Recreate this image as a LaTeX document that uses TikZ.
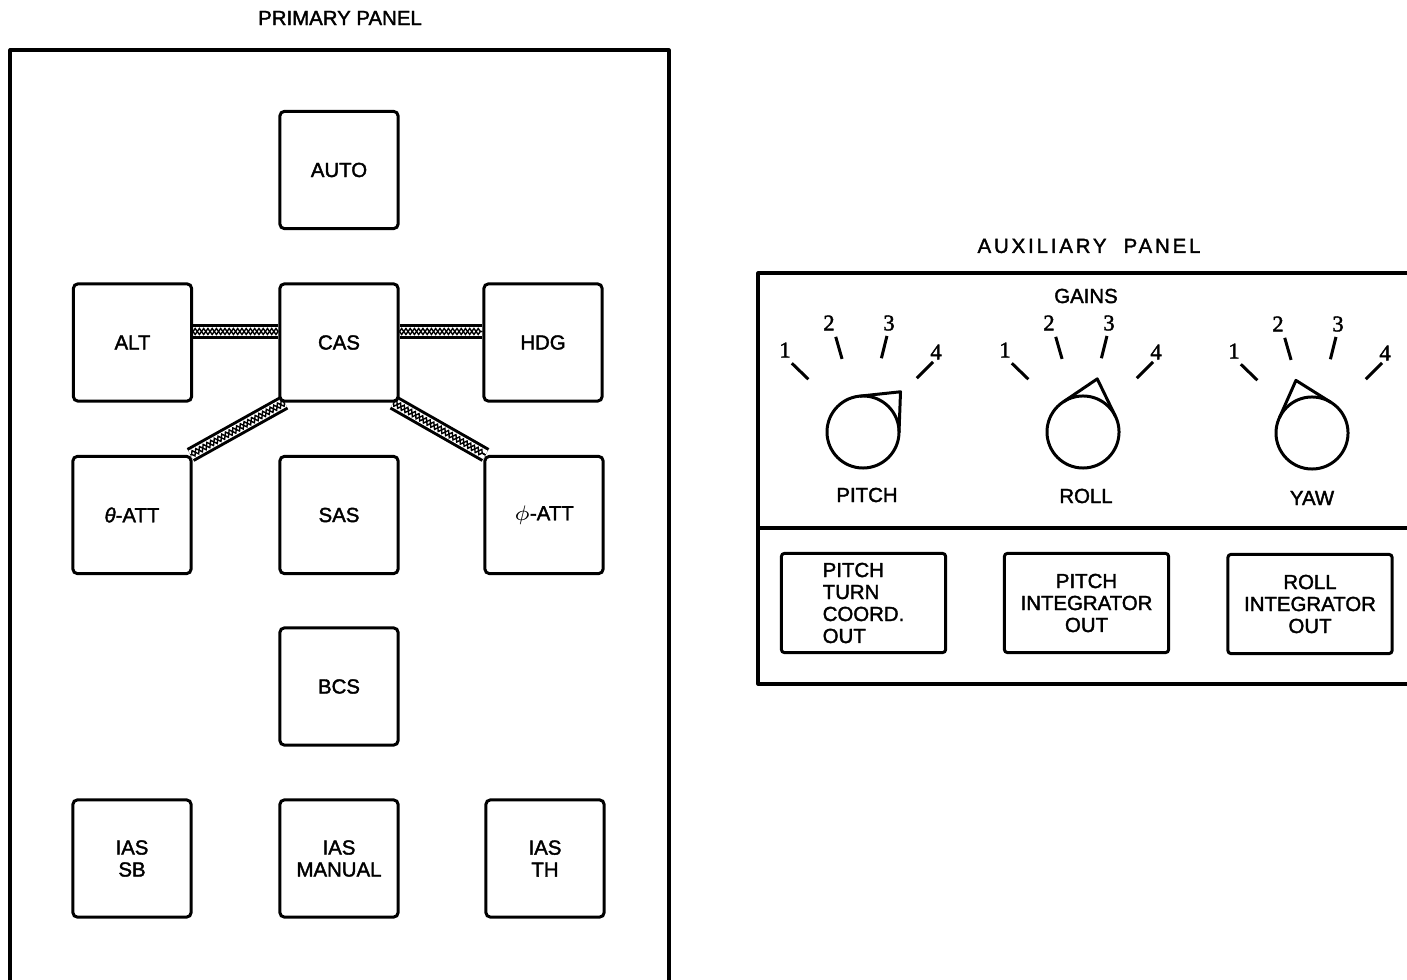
\documentclass[tikz,border=0pt]{standalone}
\usepackage{fontspec}
\setmainfont{Liberation Sans}[FakeBold=1.8]
\newfontfamily\numfont{Liberation Serif}[FakeBold=1.8]
\usetikzlibrary{decorations.pathmorphing}
\pgfdeclarelayer{background}
\pgfsetlayers{background,main}
\newcommand\labsize{\fontsize{5.8}{6.25}\selectfont}
\newcommand\numsize{\numfont\fontsize{6.4}{7}\selectfont}
\tikzset{
  btn/.style={draw, line width=0.85pt, rounded corners=1.2pt, fill=white,
    minimum width=1.18cm, minimum height=1.17cm, inner sep=0pt, align=center, font=\labsize},
  auxbtn/.style={draw, line width=0.85pt, rounded corners=0.8pt, fill=white,
    minimum width=1.64cm, minimum height=0.99cm, inner sep=0pt, font=\labsize},
  panelline/.style={line width=0.9pt, line join=round},
  knobc/.style={circle, draw, line width=0.85pt, minimum size=0.72cm, inner sep=0pt},
  gaintick/.style={line width=0.85pt},
  lbl/.style={font=\labsize, inner sep=0pt},
  numlbl/.style={font=\numsize, inner sep=0pt},
}
\newcommand\hatchband[2]{%
  \draw[line width=0.155cm] #1 -- #2;
  \draw[white, line width=0.095cm] #1 -- #2;
  \draw[line width=0.4pt, decorate, decoration={zigzag, amplitude=0.03cm, segment length=0.085cm}] #1 -- #2;
  \draw[line width=0.4pt, decorate, decoration={zigzag, amplitude=0.03cm, segment length=0.085cm, mirror}] #1 -- #2;
}
% name, x, y, pointer angle (visual, degrees)
\newcommand\gainknob[4]{%
  \pgfmathsetmacro\kA{-(#4)-48}%
  \pgfmathsetmacro\kB{-(#4)}%
  \pgfmathsetmacro\kC{-(#4)+48}%
  \begin{scope}[shift={(#2,#3)}]
    \node[knobc] (#1) at (0,0) {};
    \draw[gaintick] (-136:76) -- (-136:99);
    \draw[gaintick] (-106:76) -- (-106:99);
    \draw[gaintick] (-76:76) -- (-76:99);
    \draw[gaintick] (-45:76) -- (-45:99);
    \node[numlbl] (#1one) at (-78,-82) {1};
    \node[numlbl] (#1two) at (-34,-109) {2};
    \node[numlbl] (#1three) at (26,-109) {3};
    \node[numlbl] (#1four) at (73,-80) {4};
    \draw[line width=0.85pt, line join=round] (\kA:36) -- (\kB:55) -- (\kC:36);
  \end{scope}
}
\begin{document}
\begin{tikzpicture}[x=0.01cm, y=-0.01cm]
\useasboundingbox (0,0) rectangle (1407,980);

% ---------------- primary panel
\node[lbl] (ptitle) at (340,18) {PRIMARY PANEL};
\draw[panelline] (10,980) -- (10,50) -- (669,50) -- (669,980);

\node[btn] (auto) at (339,170) {AUTO};
\node[btn] (alt) at (132.5,342.5) {ALT};
\node[btn] (cas) at (339,342.5) {CAS};
\node[btn] (hdg) at (543,342.5) {HDG};
\node[btn] (thatt) at (132,515) {{\itshape θ}-ATT};
\node[btn] (sas) at (339,515) {SAS};
\node[btn] (phatt) at (544,515) {$\phi$-ATT};
\node[btn] (bcs) at (339,686.5) {BCS};
\node[btn] (iassb) at (132,858.5) {IAS\\SB};
\node[btn] (iasman) at (339,858.5) {IAS\\MANUAL};
\node[btn] (iasth) at (545,858.5) {IAS\\TH};

\begin{pgfonlayer}{background}
  \hatchband{([yshift=0.11cm]alt.east)}{([yshift=0.11cm]cas.west)}
  \hatchband{([yshift=0.11cm]cas.east)}{([yshift=0.11cm]hdg.west)}
  \hatchband{([xshift=0.06cm]cas.south west)}{([xshift=-0.02cm]thatt.north east)}
  \hatchband{([xshift=-0.06cm]cas.south east)}{([xshift=0.02cm]phatt.north west)}
\end{pgfonlayer}

% ---------------- auxiliary panel
\node[lbl, font=\labsize\addfontfeature{LetterSpace=14}] (atitle) at (1089,246) {AUXILIARY\ \ PANEL};
\draw[panelline] (1407,273) -- (758,273) -- (758,684) -- (1407,684);
\draw[panelline] (758,528) -- (1407,528);

\node[lbl] (gains) at (1086,296) {GAINS};
\gainknob{pitch}{863}{432}{47}
\gainknob{roll}{1083}{432}{75}
\gainknob{yaw}{1312}{433}{107}
\node[lbl] (pitchlbl) at (867,495) {PITCH};
\node[lbl] (rolllbl) at (1086,496) {ROLL};
\node[lbl] (yawlbl) at (1312,498) {YAW};

\node[auxbtn, align=left] (ptc) at (863.5,603) {PITCH\\TURN\\COORD.\\OUT};
\node[auxbtn, align=center] (pio) at (1086.5,603) {PITCH\\INTEGRATOR\\OUT};
\node[auxbtn, align=center] (rio) at (1310,604) {ROLL\\INTEGRATOR\\OUT};
\end{tikzpicture}
\end{document}
